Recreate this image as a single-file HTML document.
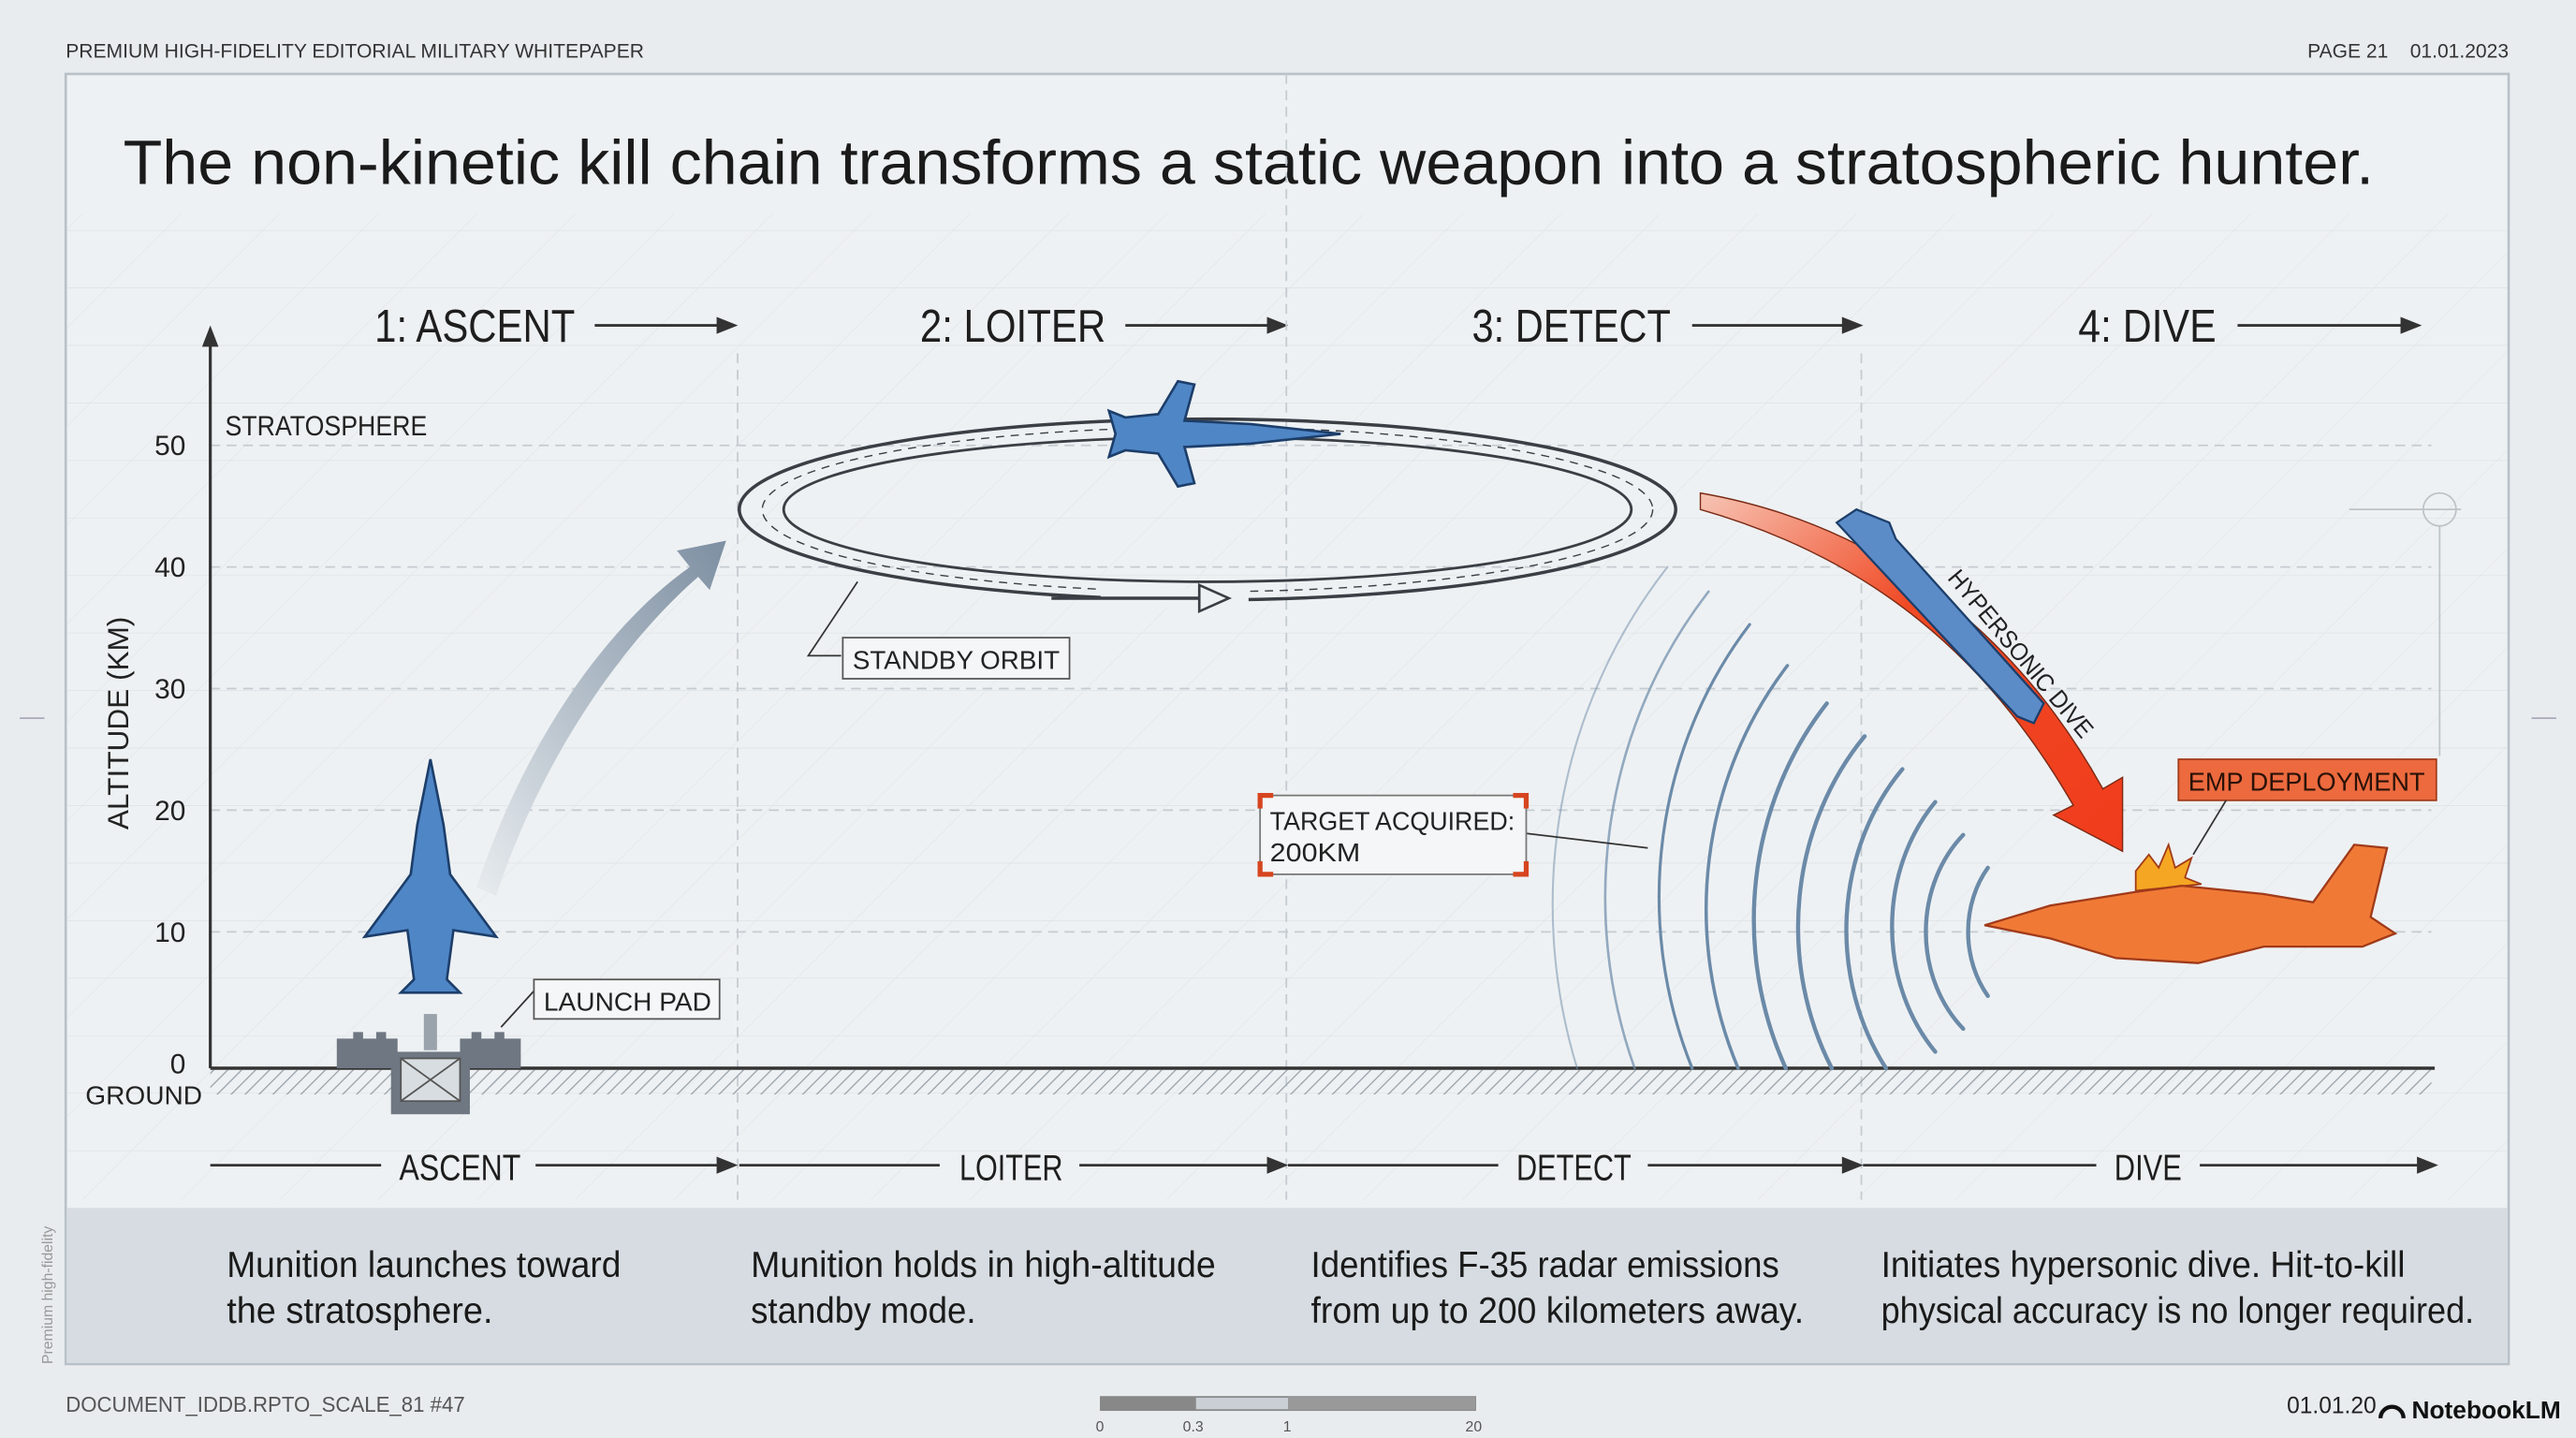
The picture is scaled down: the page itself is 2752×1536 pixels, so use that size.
<!DOCTYPE html>
<html><head><meta charset="utf-8"><style>
html,body{margin:0;padding:0;background:#e8ecef;}
svg{display:block;font-family:"Liberation Sans",sans-serif;}
</style></head><body>
<svg width="2752" height="1536" viewBox="0 0 1568 875" preserveAspectRatio="none" xmlns="http://www.w3.org/2000/svg">
<defs>
<pattern id="hatch" width="6" height="6" patternUnits="userSpaceOnUse" patternTransform="rotate(45)"><line x1="0" y1="0" x2="0" y2="6" stroke="#9aa3ab" stroke-width="1.5"/></pattern>
<pattern id="grid" width="60" height="35" patternUnits="userSpaceOnUse" patternTransform="skewX(-45)"><path d="M0 0H60M0 0V35" stroke="#dde2e6" stroke-width="0.8" fill="none"/></pattern>
<linearGradient id="ag" x1="0" y1="1" x2="1" y2="0"><stop offset="0" stop-color="#e8ecef"/><stop offset="1" stop-color="#7d8fa2"/></linearGradient>
<linearGradient id="rg" x1="0" y1="0" x2="1" y2="1"><stop offset="0" stop-color="#f7c4b4"/><stop offset="0.4" stop-color="#f04a25"/><stop offset="1" stop-color="#f03c1c"/></linearGradient>
</defs>
<rect width="1568" height="875" fill="#e8ecef"/>
<text x="40" y="35" font-size="12" fill="#333" textLength="352" lengthAdjust="spacingAndGlyphs">PREMIUM HIGH-FIDELITY EDITORIAL MILITARY WHITEPAPER</text>
<text x="1527" y="35" font-size="12" fill="#333" text-anchor="end">PAGE 21 &#160;&#160; 01.01.2023</text>
<rect x="40" y="45" width="1487" height="785" fill="#eef1f3" stroke="#b9c1c8" stroke-width="1.5"/>
<rect x="41" y="130" width="1485" height="600" fill="url(#grid)"/>
<text x="75" y="112" font-size="38" fill="#1a1a1a" textLength="1370" lengthAdjust="spacingAndGlyphs">The non-kinetic kill chain transforms a static weapon into a stratospheric hunter.</text>
<!-- phase header -->
<g font-size="28" fill="#1e1e1e">
<text x="228" y="208" textLength="122" lengthAdjust="spacingAndGlyphs">1: ASCENT</text><text x="560" y="208" textLength="113" lengthAdjust="spacingAndGlyphs">2: LOITER</text><text x="896" y="208" textLength="121" lengthAdjust="spacingAndGlyphs">3: DETECT</text><text x="1265" y="208" textLength="84" lengthAdjust="spacingAndGlyphs">4: DIVE</text></g>
<g stroke="#333" stroke-width="1.6" fill="#333">
<line x1="362" y1="198" x2="440" y2="198"/><path d="M447 198l-10-4v8z"/>
<line x1="685" y1="198" x2="775" y2="198"/><path d="M782 198l-10-4v8z"/>
<line x1="1030" y1="198" x2="1125" y2="198"/><path d="M1132 198l-10-4v8z"/>
<line x1="1362" y1="198" x2="1465" y2="198"/><path d="M1472 198l-10-4v8z"/>
</g>
<!-- gridlines -->
<g stroke="#c4cbd1" stroke-width="1" stroke-dasharray="6 4">
<line x1="128" y1="567" x2="1480" y2="567"/><line x1="128" y1="493" x2="1480" y2="493"/><line x1="128" y1="419" x2="1480" y2="419"/><line x1="128" y1="345" x2="1480" y2="345"/><line x1="128" y1="271" x2="1480" y2="271"/>
<line x1="449" y1="215" x2="449" y2="730"/><line x1="783" y1="45" x2="783" y2="730"/><line x1="1133" y1="215" x2="1133" y2="730"/>
</g>
<!-- axes -->
<line x1="128" y1="650" x2="128" y2="205" stroke="#333" stroke-width="1.8"/><path d="M128 198l-5 13h10z" fill="#333"/>
<g font-size="17" fill="#222" text-anchor="end"><text x="113" y="653">0</text><text x="113" y="573">10</text><text x="113" y="499">20</text><text x="113" y="425">30</text><text x="113" y="351">40</text><text x="113" y="277">50</text></g>
<text x="137" y="265" font-size="17" fill="#222" textLength="123" lengthAdjust="spacingAndGlyphs">STRATOSPHERE</text>
<text transform="translate(78 440) rotate(-90)" font-size="18" fill="#222" text-anchor="middle">ALTITUDE (KM)</text>
<text x="52" y="672" font-size="16" fill="#222">GROUND</text>
<rect x="128" y="651" width="1352" height="15" fill="url(#hatch)"/>
<line x1="128" y1="650" x2="1482" y2="650" stroke="#333" stroke-width="2"/>
<!-- launch pad -->
<path d="M205 632h10v-4h6v4h8v-4h6v4h7v18h-37z M280 632h7v-4h6v4h8v-4h6v4h10v18h-37z" fill="#6e7782"/>
<rect x="238" y="640" width="48" height="38" fill="#6e7782"/><rect x="244" y="644" width="36" height="26" fill="#d8dde1" stroke="#555"/>
<path d="M244 644l36 26M280 644l-36 26" stroke="#555"/>
<rect x="258" y="617" width="8" height="22" fill="#9aa3ab"/>
<line x1="305" y1="625" x2="325" y2="603" stroke="#333"/>
<rect x="325" y="596" width="113" height="24" fill="#f4f6f7" stroke="#555"/><text x="331" y="615" font-size="16" fill="#222" textLength="102" lengthAdjust="spacingAndGlyphs">LAUNCH PAD</text>
<!-- ascent jet -->
<path d="M262 462l8 40 4 30 28 38-26-4-4 30 8 8-18 0-18 0 8-8-4-30-26 4 28-38 4-30z" fill="#4f86c6" stroke="#1c3e6a" stroke-width="1.5"/>
<!-- ascent arrow -->
<path d="M290 540C320 450 370 380 420 345l-8-10 30-6-10 30-7-8C380 390 330 460 302 545z" fill="url(#ag)"/>
<!-- orbit -->
<ellipse cx="735" cy="310" rx="285" ry="55" fill="none" stroke="#3a3f45" stroke-width="2"/>
<ellipse cx="735" cy="310" rx="258" ry="44" fill="none" stroke="#3a3f45" stroke-width="1.6"/>
<ellipse cx="735" cy="310" rx="271" ry="50" fill="none" stroke="#3a3f45" stroke-width="0.8" stroke-dasharray="5 4"/>
<rect x="670" y="358" width="90" height="12" fill="#eef1f3"/><path d="M640 364h90" stroke="#3a3f45" stroke-width="2"/><path d="M730 356l18 8-18 8z" fill="#eef1f3" stroke="#3a3f45" stroke-width="1.5"/>
<!-- loiter jet -->
<path d="M675 250l10 4 20-2 12-20 10 2-6 22 40 2 55 6-55 6-40 2 6 22-10 2-12-20-20-2-10 4 4-14z" fill="#4f86c6" stroke="#1c3e6a" stroke-width="1.5"/>
<path d="M522 354l-30 45h20" fill="none" stroke="#333"/>
<rect x="513" y="388" width="138" height="25" fill="#f4f6f7" stroke="#555"/><text x="519" y="407" font-size="16" fill="#222" textLength="126" lengthAdjust="spacingAndGlyphs">STANDBY ORBIT</text>
<!-- emission arcs -->
<g fill="none" stroke="#6b8aa8" stroke-width="2.5" stroke-linecap="round">
<path d="M1210 528a50 60 0 0 0 0 78"/>
<path d="M1195 508a70 80 0 0 0 0 118"/>
<path d="M1178 488a95 110 0 0 0 0 152"/>
<path d="M1158 468a120 140 0 0 0 -10 182"/>
<path d="M1135 448a150 170 0 0 0 -20 202"/>
<path d="M1112 428a180 200 0 0 0 -25 222"/>
<path d="M1088 405a210 230 0 0 0 -30 245" stroke-width="2"/>
<path d="M1065 380a240 260 0 0 0 -35 270" stroke-width="1.8"/>
<path d="M1040 360a270 290 0 0 0 -45 290" stroke-width="1.5" opacity="0.7"/>
<path d="M1015 345a300 320 0 0 0 -55 305" stroke-width="1.2" opacity="0.5"/>
</g>
<!-- target acquired -->
<line x1="928" y1="507" x2="1003" y2="516" stroke="#333"/>
<rect x="767" y="484" width="162" height="48" fill="#f4f6f7" stroke="#777"/>
<path d="M767 492v-8h8M921 484h8v8M767 524v8h8M921 532h8v-8" fill="none" stroke="#d6451f" stroke-width="3"/>
<text x="773" y="505" font-size="16" fill="#222" textLength="149" lengthAdjust="spacingAndGlyphs">TARGET ACQUIRED:</text><text x="773" y="524" font-size="16" fill="#222" textLength="55" lengthAdjust="spacingAndGlyphs">200KM</text>
<!-- red dive arrow -->
<path d="M1035 310C1140 340 1210 400 1262 490l-12 6 42 22 0-45-12 7C1230 390 1150 320 1035 300z" fill="url(#rg)" stroke="#7a2a15" stroke-width="0.8"/>
<!-- missile -->
<path d="M1118 318l12-8 20 8 4 10 90 100-6 12-10-4z" fill="#5b8cc8" stroke="#1c3e6a" stroke-width="1.3"/>
<text transform="translate(1185 352) rotate(50)" font-size="15" fill="#222" textLength="128" lengthAdjust="spacingAndGlyphs">HYPERSONIC DIVE</text>
<!-- EMP -->
<rect x="1326" y="462" width="157" height="25" fill="#ec6a3e" stroke="#a03a1a"/><text x="1332" y="481" font-size="16" fill="#2a1208" textLength="144" lengthAdjust="spacingAndGlyphs">EMP DEPLOYMENT</text>
<line x1="1355" y1="487" x2="1335" y2="520" stroke="#333"/>
<path d="M1300 530l8-10 6 8 6-14 4 14 10-6-4 12 10 4-40 4z" fill="#f5a623" stroke="#a03a1a"/>
<!-- orange jet -->
<path d="M1208 563l40-12 50-8 30-4 50 5 30 5 25-35 20 2-10 42 15 10-20 8-60 0-40 10-50-3-40-12z" fill="#f07a35" stroke="#a03a1a" stroke-width="1.3"/>
<!-- side marker -->
<circle cx="1485" cy="310" r="10" fill="none" stroke="#bcc3c9"/><line x1="1430" y1="310" x2="1498" y2="310" stroke="#bcc3c9"/><line x1="1485" y1="320" x2="1485" y2="460" stroke="#bcc3c9"/>
<line x1="12" y1="437" x2="27" y2="437" stroke="#aab"/><line x1="1541" y1="437" x2="1556" y2="437" stroke="#aab"/>
<!-- bottom phase -->
<g font-size="22" fill="#1e1e1e"><text x="243" y="718" textLength="74" lengthAdjust="spacingAndGlyphs">ASCENT</text><text x="584" y="718" textLength="63" lengthAdjust="spacingAndGlyphs">LOITER</text><text x="923" y="718" textLength="70" lengthAdjust="spacingAndGlyphs">DETECT</text><text x="1287" y="718" textLength="41" lengthAdjust="spacingAndGlyphs">DIVE</text></g>
<g stroke="#333" stroke-width="1.6" fill="#333">
<line x1="128" y1="709" x2="232" y2="709"/><line x1="326" y1="709" x2="440" y2="709"/><path d="M447 709l-10-4v8z"/>
<line x1="450" y1="709" x2="572" y2="709"/><line x1="657" y1="709" x2="775" y2="709"/><path d="M782 709l-10-4v8z"/>
<line x1="784" y1="709" x2="912" y2="709"/><line x1="1003" y1="709" x2="1125" y2="709"/><path d="M1132 709l-10-4v8z"/>
<line x1="1134" y1="709" x2="1276" y2="709"/><line x1="1339" y1="709" x2="1475" y2="709"/><path d="M1482 709l-10-4v8z"/>
</g>
<rect x="41" y="735" width="1485" height="94" fill="#d6dce1"/>
<g font-size="22" fill="#1a1a1a">
<text x="138" y="777" textLength="240" lengthAdjust="spacingAndGlyphs">Munition launches toward</text><text x="138" y="805" textLength="162" lengthAdjust="spacingAndGlyphs">the stratosphere.</text>
<text x="457" y="777" textLength="283" lengthAdjust="spacingAndGlyphs">Munition holds in high-altitude</text><text x="457" y="805" textLength="137" lengthAdjust="spacingAndGlyphs">standby mode.</text>
<text x="798" y="777" textLength="285" lengthAdjust="spacingAndGlyphs">Identifies F-35 radar emissions</text><text x="798" y="805" textLength="300" lengthAdjust="spacingAndGlyphs">from up to 200 kilometers away.</text>
<text x="1145" y="777" textLength="319" lengthAdjust="spacingAndGlyphs">Initiates hypersonic dive. Hit-to-kill</text><text x="1145" y="805" textLength="361" lengthAdjust="spacingAndGlyphs">physical accuracy is no longer required.</text>
</g>
<text transform="translate(32 830) rotate(-90)" font-size="9" fill="#999">Premium high-fidelity</text>
<text x="40" y="859" font-size="13" fill="#555" textLength="243" lengthAdjust="spacingAndGlyphs">DOCUMENT_IDDB.RPTO_SCALE_81 #47</text>
<rect x="670" y="850" width="228" height="8" fill="#c9cfd4" stroke="#888"/><rect x="670" y="850" width="58" height="8" fill="#888"/><rect x="784" y="850" width="114" height="8" fill="#999"/>
<g font-size="9" fill="#555"><text x="667" y="871">0</text><text x="720" y="871">0.3</text><text x="781" y="871">1</text><text x="892" y="871">20</text></g>
<text x="1392" y="860" font-size="14" fill="#222">01.01.20</text>
<text x="1468" y="863" font-size="15" fill="#111" font-weight="bold">NotebookLM</text>
<path d="M1449 863a7 7 0 0 1 14 0" fill="none" stroke="#111" stroke-width="2.5"/>
</svg>
</body></html>
